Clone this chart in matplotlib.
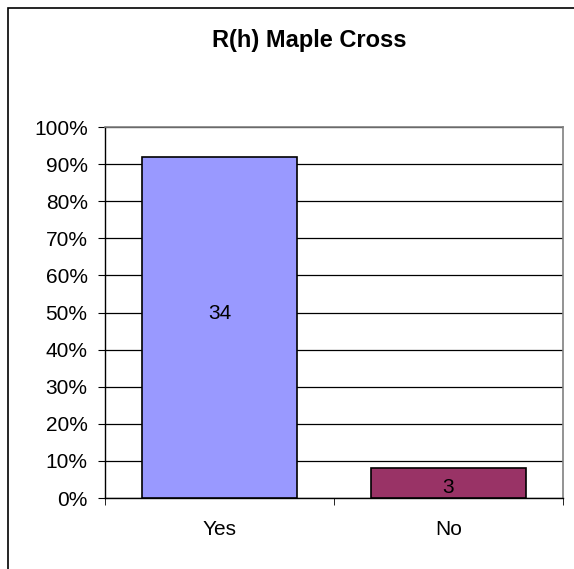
import matplotlib
matplotlib.use("Agg")
import matplotlib.pyplot as plt
from matplotlib.patches import Rectangle
from matplotlib.ticker import FixedLocator, PercentFormatter

plt.rcParams['font.family'] = ['Liberation Sans', 'DejaVu Sans']

title = "R(h) Maple Cross"
categories = ["Yes", "No"]
counts = [34, 3]
colors = ["#9999FF", "#993366"]

total = sum(counts)
shares = [c / total for c in counts]

W, H = 574, 569
fig = plt.figure(figsize=(W / 100, H / 100), dpi=100)

# outer chart border (extends beyond image on right/bottom)
fig.patches.append(Rectangle((8 / W, -0.05), 1.2, (H - 8) / H + 0.05,
                             transform=fig.transFigure, fill=False,
                             edgecolor='black', linewidth=1.2))

ax = fig.add_axes([105 / W, (H - 498) / H, (563 - 105) / W, (498 - 127) / H])

x = list(range(len(categories)))
bars = ax.bar(x, shares, width=0.68, color=colors, edgecolor='black',
              linewidth=1.2, zorder=3)

label_shift_px = [10, -3]  # vertical nudge of the value labels (points)
for b, c, s in zip(bars, counts, label_shift_px):
    ax.annotate(str(c), (b.get_x() + b.get_width() / 2, b.get_height() / 2),
                xytext=(0, s), textcoords='offset points',
                ha='center', va='center', fontsize=15, zorder=4)

ax.set_xlim(-0.5, len(categories) - 0.5)
ax.set_ylim(0, 1)
ax.yaxis.set_major_locator(FixedLocator([i / 10 for i in range(11)]))
ax.yaxis.set_major_formatter(PercentFormatter(1.0, decimals=0))
ax.yaxis.grid(True, color='black', linewidth=0.9, zorder=0)

ax.set_xticks(x)
ax.set_xticklabels(categories, fontsize=15)
ax.xaxis.set_minor_locator(FixedLocator([-0.5, 0.5, 1.5]))
ax.tick_params(axis='x', which='major', length=0, pad=16)
ax.tick_params(axis='x', which='minor', length=5, direction='out', color='black')
ax.tick_params(axis='y', length=5, direction='out', labelsize=15, pad=7.5)

for side in ['top', 'right']:
    ax.spines[side].set_color('#808080')
    ax.spines[side].set_linewidth(1.2)
ax.spines['left'].set_color('black')
ax.spines['bottom'].set_color('black')
ax.spines['left'].set_linewidth(1.0)
ax.spines['bottom'].set_linewidth(1.0)

fig.text(309 / W, (H - 41) / H, title, ha='center', va='center',
         fontsize=17, fontweight='bold')

fig.savefig("out.png", dpi=100)
